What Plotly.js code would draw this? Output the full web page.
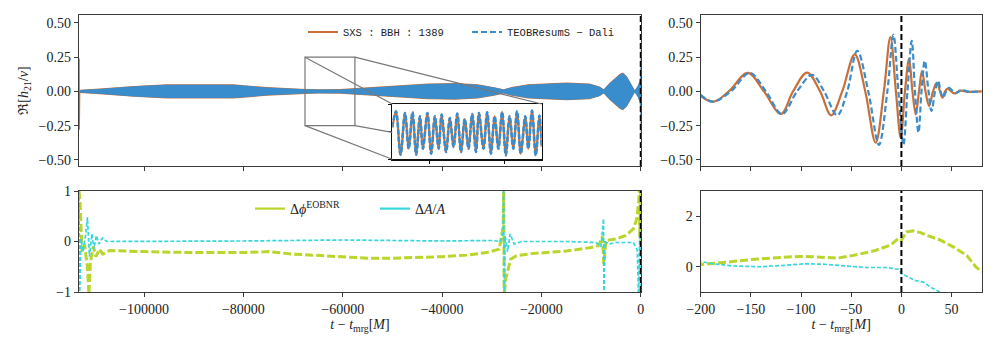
<!DOCTYPE html>
<html>
<head>
<meta charset="utf-8">
<script src="https://cdn.plot.ly/plotly-3.0.1.min.js"></script>
<style>
  html, body { margin: 0; padding: 0; background: #fff; }
  #chart { width: 997px; height: 349px; }
</style>
</head>
<body>
<div id="chart"></div>
<script>
const sxsColor = '#c8703a';   // SXS orange
const teobColor = '#3a8dcd';  // TEOB blue
const phiColor = '#bad52b';   // phase difference
const ampColor = '#38d6dc';   // amplitude difference

// long inspiral, envelope of Re[h21]/nu (top left)
const envTime = [-113100, -112800, -109000, -102000, -95500, -88700, -82000, -78700, -75300, -68600, -65000, -60500, -56200, -49500, -42900, -37400, -32800, -29500, -27600, -26000, -22700, -17300, -14900, -10300, -8300, -7450, -6300, -4200, -3600, -2800, -1800, -1200, -600, -200, -100, -30, 0, 30, 80];
const teobEnv = [0.007, 0.010, 0.018, 0.037, 0.049, 0.050, 0.049, 0.039, 0.029, 0.017, 0.013, 0.014, 0.024, 0.042, 0.054, 0.058, 0.049, 0.028, 0.013, 0.029, 0.049, 0.058, 0.062, 0.054, 0.033, 0.013, 0.058, 0.124, 0.134, 0.108, 0.043, 0.006, 0.040, 0.080, 0.140, 0.300, 0.400, 0.100, 0.0];
const sxsEnv  = [0.009, 0.012, 0.021, 0.040, 0.052, 0.054, 0.052, 0.042, 0.032, 0.020, 0.016, 0.017, 0.027, 0.045, 0.057, 0.061, 0.052, 0.031, 0.016, 0.032, 0.052, 0.061, 0.065, 0.057, 0.036, 0.016, 0.061, 0.128, 0.138, 0.111, 0.046, 0.008, 0.042, 0.078, 0.135, 0.290, 0.390, 0.090, 0.0];

// junk radiation at the start of the SXS run
const junkTime = [-113080, -113060, -113040, -113010, -112980, -112950];
const junkStrain = [0.0, 0.24, -0.28, 0.12, -0.05, 0.0];

// inset: a few inspiral cycles
const insetTime = [-63000, -62950, -62890, -62830, -62780, -62730, -62680, -62630, -62590, -62530, -62480, -62430, -62380, -62340, -62280, -62230, -62180, -62130, -62080, -62030, -61980, -61930, -61880, -61840, -61780, -61730, -61680, -61630, -61580, -61530, -61480, -61430, -61380, -61330, -61280, -61220, -61180, -61130, -61080, -61030, -61000];
const insetStrain = [0.004, 0.0184, -0.0208, 0.0169, -0.0154, 0.0175, -0.0208, 0.0139, -0.0154, 0.0169, -0.0199, 0.0139, -0.0154, 0.0154, -0.0184, 0.0123, -0.0139, 0.0163, -0.0184, 0.0114, -0.0154, 0.016, -0.0184, 0.0169, -0.0154, 0.0175, -0.0199, 0.0139, -0.0154, 0.0178, -0.0214, 0.0139, -0.0154, 0.0184, -0.0199, 0.0139, -0.0154, 0.019, -0.0214, 0.0145, -0.0136];

// merger, top right
const sxsTime = [-200, -187, -172, -153, -137, -120, -108, -94, -81, -70, -59, -46.5, -36, -25.7, -17.5, -11, -5.5, -0.7, 3.5, 7.6, 11, 14.3, 17.5, 20.5, 24, 27.6, 31.5, 35.3, 38.5, 41, 43.5, 46, 52.6, 59.3, 66, 80];
const sxsStrain = [-0.034, -0.075, 0.0, 0.135, 0.0, -0.165, 0.0, 0.137, 0.0, -0.175, 0.0, 0.27, 0.0, -0.375, 0.0, 0.397, 0.0, -0.34, 0.0, 0.237, 0.0, -0.168, 0.0, 0.15, 0.0, -0.107, 0.0, 0.065, 0.0, -0.045, 0.0, 0.02, -0.015, 0.006, -0.003, 0.0];
const teobTime = [-200, -188, -170, -151, -135, -119, -104, -89, -77, -64, -54, -44, -33, -22.4, -14, -8, -3, 2, 6, 10.3, 13.5, 17, 20, 23.3, 27, 30, 33.5, 36.6, 39, 41.5, 44.5, 47.6, 53.5, 60, 67, 80];
const teobStrain = [-0.025, -0.075, 0.0, 0.135, 0.0, -0.165, 0.0, 0.12, 0.0, -0.175, 0.0, 0.297, 0.0, -0.39, 0.0, 0.413, 0.0, -0.39, 0.0, 0.37, 0.0, -0.30, 0.0, 0.224, 0.0, -0.143, 0.0, 0.077, 0.0, -0.045, 0.0, 0.025, -0.012, 0.01, -0.002, 0.0];

// differences, bottom panels
const phiTime = [-113100, -112900, -112500, -112000, -111400, -111100, -110800, -110200, -109700, -109000, -108300, -107000, -100000, -90000, -80000, -75000, -70000, -65000, -60000, -55000, -50000, -45000, -40000, -35000, -31000, -28500, -27700, -27600, -27500, -27200, -26200, -25000, -22000, -15000, -10000, -8500, -7700, -7450, -7000, -5000, -3000, -1500, -800, -400, -260, -200, -174, -151, -124, -101, -84, -64, -48, -28, -11, -3, 0, 5, 12, 19, 25, 39, 52, 65, 74, 79, 80];
const phiDiff = [1.0, 0.8, -0.2, -0.05, -0.5, -1.05, -0.4, -0.1, -0.3, -0.15, -0.25, -0.18, -0.2, -0.22, -0.22, -0.2, -0.25, -0.28, -0.3, -0.33, -0.33, -0.32, -0.3, -0.27, -0.22, -0.15, 0.3, 1.1, -1.1, -0.75, -0.35, -0.28, -0.24, -0.19, -0.12, -0.08, 0.1, -0.45, 0.02, 0.05, 0.12, 0.25, 0.45, 0.8, 1.05, 0.09, 0.18, 0.28, 0.36, 0.41, 0.39, 0.34, 0.45, 0.62, 0.85, 1.12, 1.05, 1.38, 1.42, 1.35, 1.25, 1.05, 0.78, 0.45, 0.0, -0.15, -0.2];
const ampTime = [-113100, -112950, -112700, -112300, -111800, -111400, -111000, -110500, -110100, -109600, -109100, -108400, -107500, -100000, -90000, -80000, -70000, -60000, -50000, -40000, -30000, -28200, -27700, -27600, -27500, -27300, -26800, -26300, -25500, -24000, -15000, -9000, -8000, -7500, -7420, -7200, -6500, -5000, -1500, -700, -450, -300, -200, -188, -168, -141, -115, -95, -78, -55, -35, -15, -3, 0.3, 7, 14, 22, 29, 39, 50, 80];
const ampDiff = [1.0, -1.0, 0.05, -0.2, 0.1, 0.48, -0.3, 0.15, -0.15, 0.12, -0.05, 0.07, 0.0, 0.0, 0.0, 0.01, 0.02, 0.03, 0.02, 0.01, 0.02, 0.0, 0.2, 1.1, -1.1, 0.1, -0.2, 0.15, -0.05, 0.0, 0.0, -0.02, -0.1, 0.45, -1.1, 0.0, -0.05, -0.02, -0.02, -0.17, -1.1, -0.5, 0.21, 0.12, 0.03, 0.0, 0.06, 0.12, 0.1, 0.04, -0.03, -0.03, -0.1, -0.28, -0.41, -0.55, -0.61, -0.81, -1.01, -1.4, -2.0];

const longTicks = [-100000, -80000, -60000, -40000, -20000, 0];
const shortTicks = [-200, -150, -100, -50, 0, 50];
const strainTicks = [-0.5, -0.25, 0, 0.25, 0.5];

const zoomBoxTime = [-67600, -57550];
const zoomBoxStrain = [-0.25, 0.25];

const W = 997, H = 349;
const leftDomain = [79 / W, 641 / W];
const rightDomain = [700.7 / W, 981.7 / W];
const topDomain = [1 - 166 / H, 1 - 15 / H];
const bottomDomain = [1 - 292 / H, 1 - 191 / H];
const insetX = [392.3 / W, 541.7 / W];
const insetY = [1 - 159.3 / H, 1 - 104 / H];

const longRange = [-113100, 50];
const strainRange = [-0.545, 0.558];

const serif = "'Liberation Serif', 'DejaVu Serif', serif";
const mono = "'Liberation Mono', 'DejaVu Sans Mono', monospace";

function toPaper( value, range, domain ) {
  return domain[0] + ( value - range[0] ) / ( range[1] - range[0] ) * ( domain[1] - domain[0] );
}

function axisStyle( extra ) {
  return Object.assign({
    showline: true,
    mirror: true,
    linecolor: '#3c3c3c',
    linewidth: 1.2,
    ticks: 'outside',
    ticklen: 4,
    tickwidth: 1,
    tickcolor: '#3c3c3c',
    showgrid: false,
    zeroline: false,
    tickfont: { family: serif, size: 14, color: '#222' }
  }, extra);
}

function band( time, env, color, xa, ya ) {
  const upper = { x: time, y: env, xaxis: xa, yaxis: ya, mode: 'lines',
                  line: { width: 0, color: color }, showlegend: false, hoverinfo: 'skip' };
  const lower = { x: time, y: env.map( v => -v ), xaxis: xa, yaxis: ya, mode: 'lines',
                  line: { width: 0, color: color }, fill: 'tonexty', fillcolor: color,
                  showlegend: false, hoverinfo: 'skip' };
  return [upper, lower];
}

const data = [];

// top left: long waveform
data.push( ...band( envTime, sxsEnv, sxsColor, 'x', 'y' ) );
data.push( ...band( envTime, teobEnv, teobColor, 'x', 'y' ) );
data.push({ x: junkTime, y: junkStrain, xaxis: 'x', yaxis: 'y', mode: 'lines',
            line: { color: sxsColor, width: 1.2 }, showlegend: false });

// inset
data.push({ x: insetTime, y: insetStrain, xaxis: 'x5', yaxis: 'y5', mode: 'lines',
            line: { color: sxsColor, width: 2.2, shape: 'spline' }, showlegend: false });
data.push({ x: insetTime, y: insetStrain, xaxis: 'x5', yaxis: 'y5', mode: 'lines',
            line: { color: teobColor, width: 2.6, dash: '5px,2px', shape: 'spline' }, showlegend: false });

// top right: merger
data.push({ x: sxsTime, y: sxsStrain, xaxis: 'x2', yaxis: 'y2', mode: 'lines',
            name: 'SXS : BBH : 1389', legend: 'legend',
            line: { color: sxsColor, width: 2.2, shape: 'spline' } });
data.push({ x: teobTime, y: teobStrain, xaxis: 'x2', yaxis: 'y2', mode: 'lines',
            name: 'TEOBResumS − Dali', legend: 'legend',
            line: { color: teobColor, width: 2.2, dash: '6px,3px', shape: 'spline' } });

// bottom: differences on both time windows
[['x3', 'y3'], ['x4', 'y4']].forEach( ( ax ) => {
  data.push({ x: phiTime, y: phiDiff, xaxis: ax[0], yaxis: ax[1], mode: 'lines',
              line: { color: phiColor, width: 3, dash: '8px,3px' }, showlegend: false });
  data.push({ x: ampTime, y: ampDiff, xaxis: ax[0], yaxis: ax[1], mode: 'lines',
              line: { color: ampColor, width: 1.7, dash: '4px,2px' }, showlegend: false });
});

// legend entries for the bottom row (solid in the legend)
data.push({ x: [null], y: [null], xaxis: 'x3', yaxis: 'y3', mode: 'lines', legend: 'legend2',
            name: 'Δ<i>ϕ</i><sup>EOBNR</sup>', line: { color: phiColor, width: 2.2 } });
data.push({ x: [null], y: [null], xaxis: 'x3', yaxis: 'y3', mode: 'lines', legend: 'legend2',
            name: 'Δ<i>A</i>/<i>A</i>', line: { color: ampColor, width: 2.2 } });

const shapes = [];

['x', 'x2', 'x3', 'x4'].forEach( ( xa, i ) => {
  const ya = ['y', 'y2', 'y3', 'y4'][i];
  shapes.push({ type: 'line', xref: xa, yref: ya + ' domain', x0: 0, x1: 0, y0: 0, y1: 1,
                line: { color: '#000', width: 2, dash: '6px,3px' } });
});

shapes.push({ type: 'rect', xref: 'x', yref: 'y',
              x0: zoomBoxTime[0], x1: zoomBoxTime[1], y0: zoomBoxStrain[0], y1: zoomBoxStrain[1],
              line: { color: '#777', width: 1.2 } });

// connectors from the zoom box corners to the inset corners
const boxLeft = toPaper( zoomBoxTime[0], longRange, leftDomain );
const boxRight = toPaper( zoomBoxTime[1], longRange, leftDomain );
const boxBottom = toPaper( zoomBoxStrain[0], strainRange, topDomain );
const boxTop = toPaper( zoomBoxStrain[1], strainRange, topDomain );
const corners = [
  [boxLeft, boxTop, insetX[0], insetY[1]],
  [boxRight, boxTop, insetX[1], insetY[1]],
  [boxLeft, boxBottom, insetX[0], insetY[0]],
  [boxRight, boxBottom, insetX[1], insetY[0]]
];
corners.forEach( ( c, i ) => {
  let x1 = c[2], y1 = c[3];
  if( i === 3 ) {
    // hidden behind the inset: stop at its left edge
    const f = ( insetX[0] - c[0] ) / ( c[2] - c[0] );
    x1 = insetX[0];
    y1 = c[1] + f * ( c[3] - c[1] );
  }
  shapes.push({ type: 'line', xref: 'paper', yref: 'paper', x0: c[0], y0: c[1], x1: x1, y1: y1,
                line: { color: '#777', width: 1.2 } });
});

const layout = {
  width: W,
  height: H,
  autosize: false,
  margin: { l: 0, r: 0, t: 0, b: 0 },
  paper_bgcolor: '#fff',
  plot_bgcolor: '#fff',
  font: { family: serif, size: 14, color: '#222' },
  xaxis: axisStyle({ domain: leftDomain, range: longRange, tickvals: longTicks,
                     showticklabels: false, anchor: 'y' }),
  yaxis: axisStyle({ domain: topDomain, range: strainRange, tickvals: strainTicks, tickformat: '.2f',
                     anchor: 'x',
                     title: { text: 'ℜ[<i>h</i><sub>21</sub>/<i>ν</i>]', standoff: 6,
                              font: { family: serif, size: 14, color: '#222' } } }),
  xaxis2: axisStyle({ domain: rightDomain, range: [-200, 80], tickvals: shortTicks,
                      showticklabels: false, anchor: 'y2' }),
  yaxis2: axisStyle({ domain: topDomain, range: strainRange, tickvals: strainTicks, tickformat: '.2f',
                      anchor: 'x2' }),
  xaxis3: axisStyle({ domain: leftDomain, range: longRange, tickvals: longTicks, tickformat: 'd',
                      anchor: 'y3',
                      title: { text: '<i>t</i> − <i>t</i><sub>mrg</sub>[<i>M</i>]', standoff: 2,
                               font: { family: serif, size: 14, color: '#222' } } }),
  yaxis3: axisStyle({ domain: bottomDomain, range: [-1, 1], tickvals: [-1, 0, 1], anchor: 'x3' }),
  xaxis4: axisStyle({ domain: rightDomain, range: [-200, 80], tickvals: shortTicks, tickformat: 'd',
                      anchor: 'y4',
                      title: { text: '<i>t</i> − <i>t</i><sub>mrg</sub>[<i>M</i>]', standoff: 2,
                               font: { family: serif, size: 14, color: '#222' } } }),
  yaxis4: axisStyle({ domain: bottomDomain, range: [-1, 3], tickvals: [0, 2], anchor: 'x4' }),
  xaxis5: axisStyle({ domain: insetX, range: [-63000, -61000], tickvals: [-62500, -61500],
                      showticklabels: false, anchor: 'y5', linecolor: '#111', linewidth: 1.5,
                      ticklen: 3, tickcolor: '#111' }),
  yaxis5: axisStyle({ domain: insetY, range: [-0.025, 0.025], tickvals: [-0.025, 0, 0.025],
                      showticklabels: false, anchor: 'x5', linecolor: '#111', linewidth: 1.5,
                      ticklen: 3, tickcolor: '#111' }),
  legend: {
    orientation: 'h', x: 303 / W, y: 1 - 32 / H, xanchor: 'left', yanchor: 'middle',
    traceorder: 'normal',
    bgcolor: 'rgba(0,0,0,0)', entrywidth: 119, entrywidthmode: 'pixels',
    font: { family: mono, size: 10.5, color: '#222' }
  },
  legend2: {
    orientation: 'h', x: 250 / W, y: 1 - 209 / H, xanchor: 'left', yanchor: 'middle',
    traceorder: 'normal',
    bgcolor: 'rgba(0,0,0,0)', entrywidth: 80, entrywidthmode: 'pixels',
    font: { family: serif, size: 14, color: '#222' }
  },
  shapes: shapes
};

Plotly.newPlot( document.getElementById('chart'), data, layout, { displayModeBar: false, staticPlot: true } );
</script>
</body>
</html>
